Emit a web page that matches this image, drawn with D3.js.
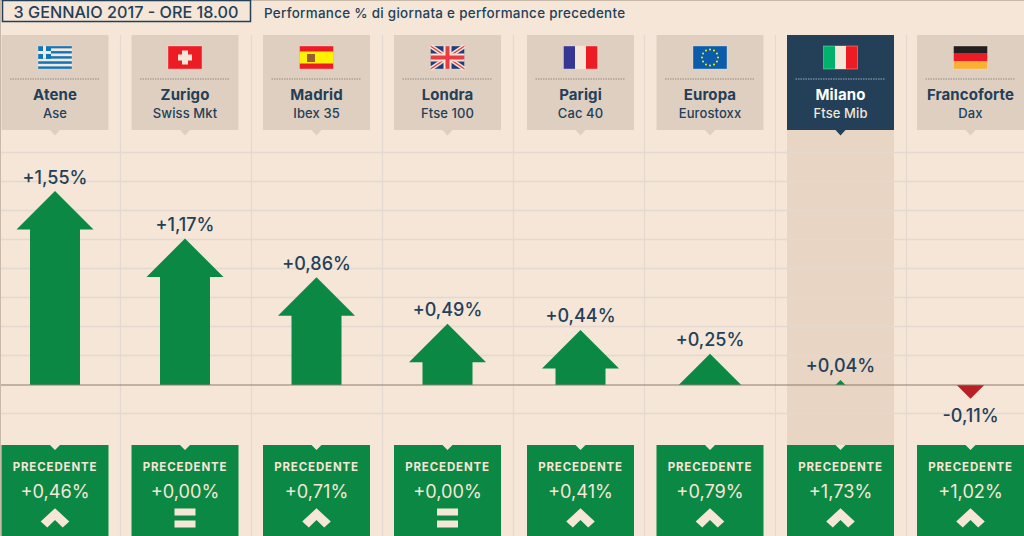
<!DOCTYPE html>
<html>
<head>
<meta charset="utf-8">
<style>
    html, body { margin: 0; padding: 0; background: #f5e6d7; overflow: hidden; }
    text { font-family: Inter, "Open Sans", sans-serif; font-weight: 500; }
</style>
<script src="https://cdn.jsdelivr.net/npm/d3@7"></script>
</head>
<body>
<svg id="chart" width="1024" height="536" style="display:block"></svg>
<script>
// chart data
const cities = ["Atene", "Zurigo", "Madrid", "Londra", "Parigi", "Europa", "Milano", "Francoforte"];
const indices = ["Ase", "Swiss Mkt", "Ibex 35", "Ftse 100", "Cac 40", "Eurostoxx", "Ftse Mib", "Dax"];
const flags = ["gr", "ch", "es", "gb", "fr", "eu", "it", "de"];
const todayValues = [1.55, 1.17, 0.86, 0.49, 0.44, 0.25, 0.04, -0.11];
const previousValues = [0.46, 0.00, 0.71, 0.00, 0.41, 0.79, 1.73, 1.02];
const highlighted = "Milano";
const gridSteps = [-1, 1, 2, 3, 4, 5, 6, 7, 8];
const gridStepValue = 0.232;

const titleText = "3 GENNAIO 2017 - ORE 18.00";
const subtitleText = "Performance % di giornata e performance precedente";

// colours
const BG = "#f5e6d7", PANEL = "#dfcfc0", DARK = "#234058", GREEN = "#0b8843", RED = "#b82025";
const BAND = "#e8d5c3", GRID = "#e4d9d0", BASE = "#8f7a6a";

const svg = d3.select("#chart");
const itLocale = d3.formatLocale({ decimal: ",", thousands: ".", grouping: [3], currency: ["", "€"], minus: "-" });
const fmt = v => itLocale.format("+.2f")(v) + "%";

// scales
const xPos = d3.scaleOrdinal().domain(cities).range([55, 185, 316.5, 447.5, 580.5, 710, 840.5, 970.5]);
const yPos = d3.scaleLinear().domain([0, 1.55]).range([385, 191]);
const panelW = 107, topY = 35, topH = 95, botY = 445;
const gridX = [120.5, 251.5, 382.5, 513.5, 644.5, 775.5, 906.5];

svg.append("rect").attr("width", 1024).attr("height", 536).attr("fill", BG);
svg.append("rect").attr("width", 1024).attr("height", 1).attr("fill", "#c9b9a8");
svg.append("rect").attr("width", 1).attr("height", 536).attr("fill", "#c9b9a8");

// highlighted column
svg.append("rect")
    .attr("x", xPos(highlighted) - panelW / 2).attr("y", topY + topH)
    .attr("width", panelW).attr("height", botY - topY - topH)
    .attr("fill", BAND);

// grid
const gridY = d => Math.round(yPos(d * gridStepValue)) - 0.5;
svg.append("g").selectAll("line").data(gridSteps).join("line")
    .attr("x1", 1).attr("x2", 1024)
    .attr("y1", gridY).attr("y2", gridY)
    .attr("stroke", GRID).attr("stroke-width", 1.4);
svg.append("g").selectAll("line").data(gridX).join("line")
    .attr("x1", d => d).attr("x2", d => d)
    .attr("y1", topY).attr("y2", 536)
    .attr("stroke", GRID).attr("stroke-width", 1.2);

// header
svg.append("rect").attr("x", 2.5).attr("y", 0.5).attr("width", 248).attr("height", 21)
    .attr("fill", "none").attr("stroke", DARK).attr("stroke-width", 1.5);
svg.append("text").attr("x", 126).attr("y", 17.5).attr("text-anchor", "middle")
    .attr("font-size", 16.2).attr("fill", DARK).text(titleText);
svg.append("text").attr("x", 264).attr("y", 17.5)
    .attr("font-size", 13.4).attr("letter-spacing", 0.3).attr("fill", DARK).text(subtitleText);

// arrows
function arrowPath(v) {
    const h = Math.abs(yPos(v) - yPos(0));
    const base = yPos(0), s = v < 0 ? 1 : -1;
    const headH = 38.5, shaft = 25;
    if (h <= headH) {
        return `M${-h},${base}L0,${base + s * h}L${h},${base}Z`;
    }
    const neck = base + s * (h - headH);
    return `M${-shaft},${base}L${-shaft},${neck}L${-headH},${neck}L0,${base + s * h}` +
        `L${headH},${neck}L${shaft},${neck}L${shaft},${base}Z`;
}
svg.append("g").selectAll("path").data(cities).join("path")
    .attr("transform", d => `translate(${xPos(d)},0)`)
    .attr("d", (d, i) => arrowPath(todayValues[i]))
    .attr("fill", (d, i) => todayValues[i] < 0 ? RED : GREEN);

// baseline
svg.append("line").attr("x1", 1).attr("x2", 1024).attr("y1", yPos(0)).attr("y2", yPos(0))
    .attr("stroke", BASE).attr("stroke-width", 1.2);

// value labels
svg.append("g").selectAll("text").data(cities).join("text")
    .attr("x", d => xPos(d))
    .attr("y", (d, i) => todayValues[i] < 0 ? yPos(todayValues[i]) + 23.5 : yPos(todayValues[i]) - 7.5)
    .attr("text-anchor", "middle")
    .attr("font-size", 18).attr("fill", DARK)
    .text((d, i) => fmt(todayValues[i]));

// top panels
const topPanels = svg.append("g").selectAll("g").data(cities).join("g")
    .attr("transform", d => `translate(${xPos(d)},0)`);
topPanels.append("path")
    .attr("d", `M${-panelW / 2},${topY}h${panelW}v${topH}h${-panelW / 2 + 5}l-5,5.5l-5,-5.5h${-panelW / 2 + 5}Z`)
    .attr("fill", d => d === highlighted ? DARK : PANEL);
topPanels.append("line")
    .attr("x1", -45).attr("x2", 45).attr("y1", 79).attr("y2", 79)
    .attr("stroke", d => d === highlighted ? "#9fb0bc" : "#8f8a86")
    .attr("stroke-width", 1).attr("stroke-dasharray", "1.5 1");
topPanels.append("text").attr("y", 100).attr("text-anchor", "middle")
    .attr("font-size", 15).attr("letter-spacing", 0.1).style("font-weight", 700)
    .attr("fill", d => d === highlighted ? "#fff" : DARK)
    .text(d => d);
topPanels.append("text").attr("y", 117.5).attr("text-anchor", "middle")
    .attr("font-size", 13).attr("letter-spacing", 0.1)
    .attr("fill", d => d === highlighted ? "#f1e7dc" : DARK)
    .text((d, i) => indices[i]);

// flags
const flagW = 34, flagH = 23;
function box(g, bx, by, w, h, c) {
    g.append("rect").attr("x", bx).attr("y", by).attr("width", w).attr("height", h).attr("fill", c);
}
const drawFlag = {
    gr(g) {
        d3.range(9).forEach(i => box(g, 0, i * flagH / 9, flagW, flagH / 9, i % 2 ? "#f3ead9" : "#0f75bc"));
        box(g, 0, 0, 13, flagH * 5 / 9, "#0f75bc");
        box(g, 5, 0, 3, flagH * 5 / 9, "#f3ead9");
        box(g, 0, 5, 13, 3, "#f3ead9");
    },
    ch(g) {
        box(g, 0, 0, flagW, flagH, "#ed1c24");
        box(g, 14, 4.5, 6, 14, "#f5e6d7");
        box(g, 10, 8.5, 14, 6, "#f5e6d7");
    },
    es(g) {
        box(g, 0, 0, flagW, flagH, "#ed1c24");
        box(g, 0, 5.5, flagW, 12, "#fff200");
        box(g, 7.5, 8, 8, 8, "#a5573a");
        box(g, 9.5, 10, 4, 4, "#7f6a2a");
    },
    gb(g) {
        box(g, 0, 0, flagW, flagH, "#1f3f77");
        const diag = (c, w) => ["M0,0L34,23", "M34,0L0,23"].forEach(p =>
            g.append("path").attr("d", p).attr("stroke", c).attr("stroke-width", w));
        diag("#f5e6d7", 4.5);
        diag("#ed3a45", 1.5);
        box(g, 13, 0, 8, flagH, "#f5e6d7");
        box(g, 0, 7.5, flagW, 8, "#f5e6d7");
        box(g, 15, 0, 4, flagH, "#ed3a45");
        box(g, 0, 9.5, flagW, 4, "#ed3a45");
    },
    fr(g) {
        box(g, 0, 0, 11.5, flagH, "#363795");
        box(g, 11.5, 0, 11, flagH, "#f5e6d7");
        box(g, 22.5, 0, 11.5, flagH, "#ed1c24");
    },
    eu(g) {
        box(g, 0, 0, flagW, flagH, "#0b5cab");
        d3.range(12).forEach(i => {
            const a = i * Math.PI / 6;
            g.append("circle").attr("cx", 17 + 8 * Math.cos(a)).attr("cy", 11.5 + 8 * Math.sin(a))
                .attr("r", 1).attr("fill", "#fff200");
        });
    },
    it(g) {
        box(g, 0, 0, 11.5, flagH, "#00b26b");
        box(g, 11.5, 0, 11, flagH, "#f5e6d7");
        box(g, 22.5, 0, 11.5, flagH, "#ed1c24");
    },
    de(g) {
        box(g, 0, 0, flagW, flagH / 3, "#231f20");
        box(g, 0, flagH / 3, flagW, flagH / 3, "#ed1c24");
        box(g, 0, flagH * 2 / 3, flagW, flagH / 3, "#fbb034");
    }
};
topPanels.each(function (d, i) {
    const g = d3.select(this).append("g").attr("transform", `translate(${-flagW / 2},46)`);
    drawFlag[flags[i]](g);
    g.append("rect").attr("width", flagW).attr("height", flagH)
        .attr("fill", "none").attr("stroke", BG).attr("stroke-opacity", 0.45).attr("stroke-width", 0.8);
});

// bottom panels
const bottomPanels = svg.append("g").selectAll("g").data(cities).join("g")
    .attr("transform", d => `translate(${xPos(d)},0)`);
bottomPanels.append("path")
    .attr("d", `M${-panelW / 2},${botY}h${panelW / 2 - 5}l5,5l5,-5h${panelW / 2 - 5}V536H${-panelW / 2}Z`)
    .attr("fill", GREEN);
bottomPanels.append("text").attr("y", 470.5).attr("text-anchor", "middle")
    .attr("font-size", 11.5).style("font-weight", 700).attr("letter-spacing", 0.85)
    .attr("fill", BG).text("PRECEDENTE");
bottomPanels.append("text").attr("y", 497.5).attr("text-anchor", "middle")
    .attr("font-size", 18.2).style("font-weight", 400).attr("fill", BG)
    .text((d, i) => fmt(previousValues[i]));
bottomPanels.each(function (d, i) {
    const g = d3.select(this);
    if (previousValues[i] === 0) {
        box(g, -10.5, 508.5, 21, 7, BG);
        box(g, -10.5, 520.5, 21, 7, BG);
    } else {
        g.append("path").attr("d", "M0,508.3L14.3,521.6L7.7,527.6L0,520L-7.7,527.6L-14.3,521.6Z").attr("fill", BG);
    }
});
</script>
</body>
</html>
